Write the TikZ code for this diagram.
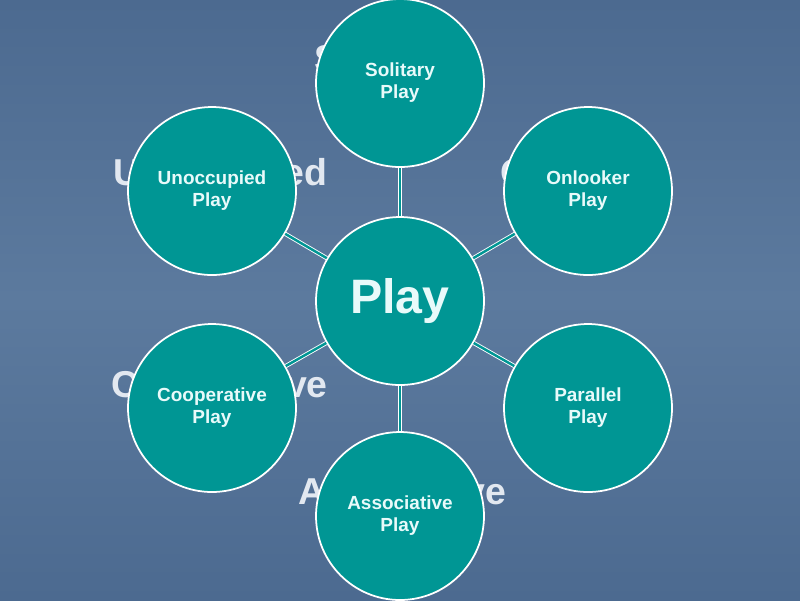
\documentclass[tikz,border=0pt]{standalone}
\usepackage{fontspec}
\setmainfont{Liberation Sans}
\usetikzlibrary{positioning}
\definecolor{slidebg}{RGB}{76,106,144}
\definecolor{slidebgmid}{RGB}{92,122,158}
\definecolor{teal}{RGB}{0,150,148}
\definecolor{labelwhite}{RGB}{232,250,250}
\definecolor{wordgray}{RGB}{226,232,240}
\tikzset{
  playcircle/.style={draw=white, line width=1pt, fill=teal, circle, minimum size=3.36cm,
    inner sep=0pt, text=labelwhite, align=center, font=\fontsize{10.8}{12.5}\selectfont\bfseries},
  behindword/.style={anchor=base west, inner sep=0pt, text=wordgray,
    font=\fontsize{21.3}{24}\selectfont\bfseries},
  link/.style={draw=white, line width=0.5pt, double=teal, double distance=1.4pt}
}
\begin{document}
\begin{tikzpicture}[x=0.02cm, y=-0.02cm]
            % slide background
            \shade[top color=slidebg, bottom color=slidebg, middle color=slidebgmid] (0,0) rectangle (800,600);
            \useasboundingbox (0,0) rectangle (800,600);
            % words left from the slide text, behind the circles
            \node[behindword] (wsol) at (314,71) {Solitary};
            \node[behindword] (wunocc) at (113,185) {Unoccupied};
            \node[behindword] (wonl) at (500,185) {Onlooker};
            \node[behindword] (wcoop) at (111,397) {Cooperative};
            \node[behindword] (wassoc) at (298,504) {Associative};
            % circles
            \node[playcircle, font=\fontsize{27.5}{30}\selectfont\bfseries] (play) at (400,301) {Play};
            \node[playcircle] (solitary) at (400,83) {Solitary\\Play};
            \node[playcircle] (onlooker) at (588,191) {Onlooker\\Play};
            \node[playcircle] (parallel) at (588,408) {Parallel\\Play};
            \node[playcircle] (assoc) at (400,516) {Associative\\Play};
            \node[playcircle] (coop) at (212,408) {Cooperative\\Play};
            \node[playcircle] (unocc) at (212,191) {Unoccupied\\Play};
            % links
            \draw[link] (play) -- (solitary);
            \draw[link] (play) -- (onlooker);
            \draw[link] (play) -- (parallel);
            \draw[link] (play) -- (assoc);
            \draw[link] (play) -- (coop);
            \draw[link] (play) -- (unocc);
\end{tikzpicture}
\end{document}
